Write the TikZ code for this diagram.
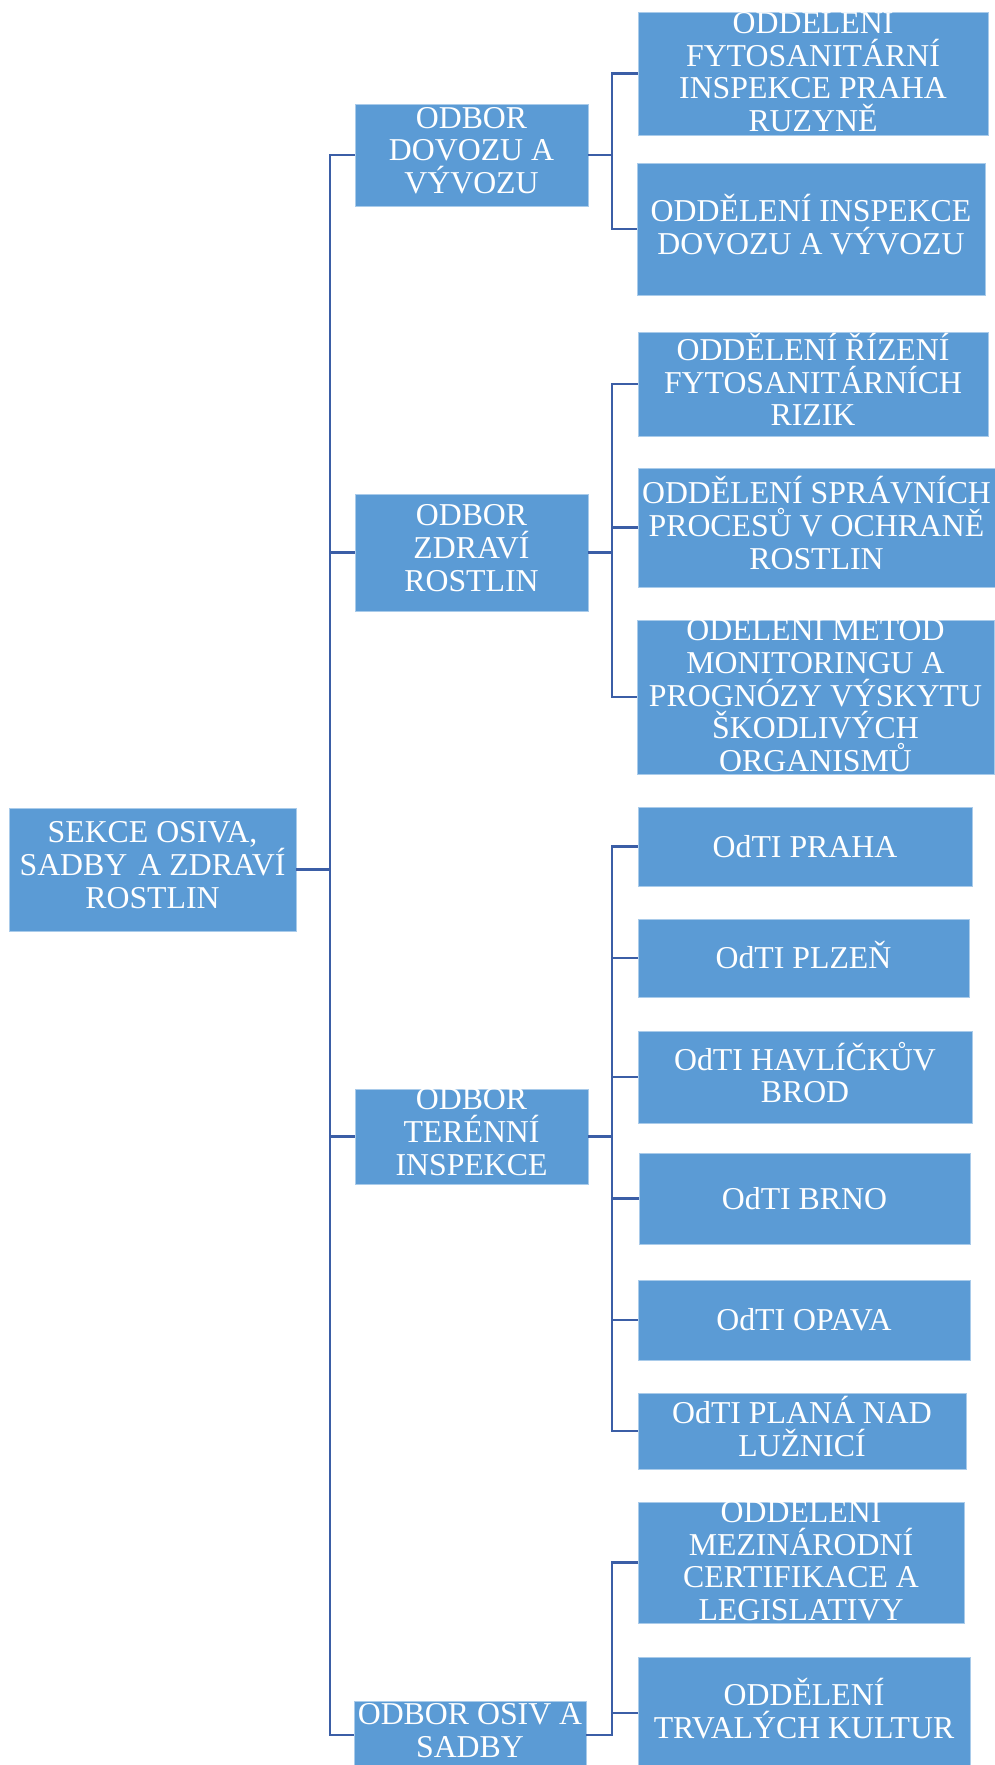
\documentclass[tikz,border=0pt]{standalone}
\usepackage{fontspec}
\setmainfont{Liberation Serif}
\definecolor{boxblue}{HTML}{5B9BD5}
\definecolor{edgeblue}{HTML}{A9CBEA}
\definecolor{linkblue}{HTML}{3B5EA6}
\newcommand\topst{\rule{0pt}{0.95em}}
\newcommand\botst{\rule[-0.288em]{0pt}{0pt}}
% #1 name, #2 x1, #3 y1, #4 x2, #5 y2, #6 text
\newcommand\orgbox[6]{%
  \node[boxst, minimum width={#4-#2}, minimum height={#5-#3}] (#1) at ({(#2+#4)/2},{(#3+#5)/2}) {};
  \node[txtst] (#1t) at (#1.center) {#6};
}
\begin{document}
\begin{tikzpicture}[x=1pt,y=-1pt,
  boxst/.style={rectangle, fill=boxblue, draw=edgeblue, line width=0.8pt, inner sep=0pt},
  txtst/.style={text=white, align=center, inner sep=0pt,
    font=\fontsize{31.8}{32.7}\selectfont,
    execute at begin node=\topst, execute at end node=\botst},
  conn/.style={draw=linkblue, line width=2.8pt}]
\useasboundingbox (0,0) rectangle (995,1765);
\fill[white] (0,0) rectangle (995,1765);

% root
\orgbox{root}{9}{808}{296}{931}{SEKCE OSIVA,\\SADBY\hspace{0.1em} A ZDRAVÍ\\ROSTLIN}

% level 1
\orgbox{la}{355}{104}{588}{206}{ODBOR\\DOVOZU A\\VÝVOZU}
\orgbox{lb}{355}{494}{588}{611}{ODBOR\\ZDRAVÍ\\ROSTLIN}
\orgbox{lc}{355}{1089}{588}{1184}{ODBOR\\TERÉNNÍ\\INSPEKCE}
\orgbox{ld}{354}{1701}{586}{1769}{ODBOR OSIV A\\SADBY}

% level 2 under A
\orgbox{a1}{638}{12}{988}{135}{ODDĚLENÍ\\FYTOSANITÁRNÍ\\INSPEKCE PRAHA\\RUZYNĚ}
\orgbox{a2}{637}{163}{985}{295}{ODDĚLENÍ INSPEKCE\\DOVOZU A VÝVOZU}

% level 2 under B
\orgbox{b1}{638}{332}{988}{436}{ODDĚLENÍ ŘÍZENÍ\\FYTOSANITÁRNÍCH\\RIZIK}
\orgbox{b2}{638}{468}{995}{587}{ODDĚLENÍ SPRÁVNÍCH\\PROCESŮ V OCHRANĚ\\ROSTLIN}
\orgbox{b3}{637}{620}{994}{774}{ODĚLENÍ METOD\\MONITORINGU A\\PROGNÓZY VÝSKYTU\\ŠKODLIVÝCH\\ORGANISMŮ}

% level 2 under C
\orgbox{c1}{638}{807}{972}{886}{OdTI PRAHA}
\orgbox{c2}{638}{919}{969}{997}{OdTI PLZEŇ}
\orgbox{c3}{638}{1031}{972}{1123}{OdTI HAVLÍČKŮV\\BROD}
\orgbox{c4}{639}{1153}{970}{1244}{OdTI BRNO}
\orgbox{c5}{638}{1280}{970}{1360}{OdTI OPAVA}
\orgbox{c6}{638}{1393}{966}{1469}{OdTI PLANÁ NAD\\LUŽNICÍ}

% level 2 under D
\orgbox{d1}{638}{1502}{964}{1623}{ODDĚLENÍ\\MEZINÁRODNÍ\\CERTIFIKACE A\\LEGISLATIVY}
\orgbox{d2}{638}{1657}{970}{1769}{ODDĚLENÍ\\TRVALÝCH KULTUR}

% connectors
\coordinate (tk) at (330,0);
\coordinate (jx) at (612,0);
\foreach \c in {la,lb,lc,ld}
  \draw[conn] (root.east) -- (root.east -| tk) |- (\c.west);
\foreach \c in {a1,a2}
  \draw[conn] (la.east) -- (la.east -| jx) |- (\c.west);
\foreach \c in {b1,b2,b3}
  \draw[conn] (lb.east) -- (lb.east -| jx) |- (\c.west);
\foreach \c in {c1,c2,c3,c4,c5,c6}
  \draw[conn] (lc.east) -- (lc.east -| jx) |- (\c.west);
\foreach \c in {d1,d2}
  \draw[conn] (ld.east) -- (ld.east -| jx) |- (\c.west);
\end{tikzpicture}
\end{document}
